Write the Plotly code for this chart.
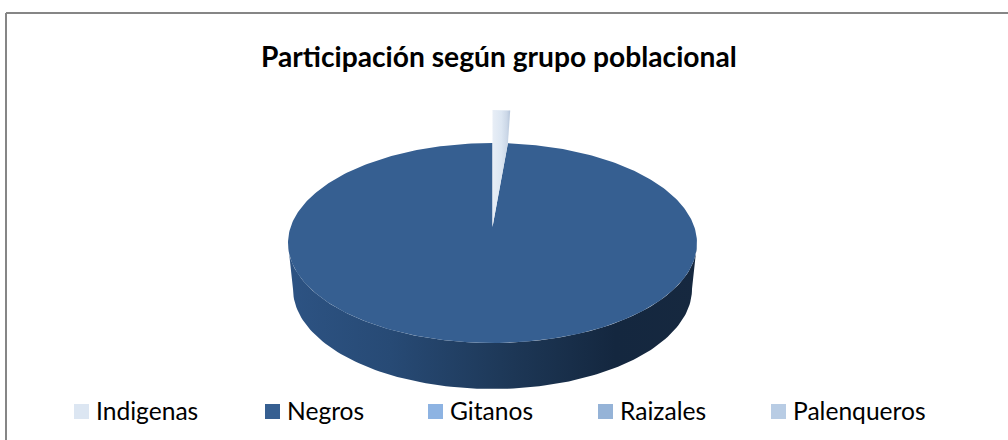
import math
import plotly.graph_objects as go

# ---- data -------------------------------------------------------------
categories = ["Indigenas", "Negros", "Gitanos", "Raizales", "Palenqueros"]
values = [1.2, 98.8, 0, 0, 0]
colors = ["#dce6f2", "#365f91", "#8db3e2", "#95b3d7", "#b8cce4"]
title_text = "Participación según grupo poblacional"

# ---- layout constants (pixels of the 1008x440 canvas) -------------------
W, H = 1008, 440
CX, CY, RX, RY = 492.5, 243.0, 204.5, 100.0
DEPTH, RX_BOTTOM = 46.0, 199.5
TIP_LIFT = 16.0       # exploded slice tip moves up
OUTER_LIFT = 33.0     # exploded slice outer edge moves up
legend_x = [81.5, 272.5, 435.5, 605.5, 778.5]
LEGEND_Y = 411.5
LABEL_GAP = 12.0
FONT = "Lato, Carlito, sans-serif"

total = sum(values)
sweep = [v / total * 2 * math.pi for v in values]
th_ind = sweep[0]


def ell(th, rx=RX, ry=RY, cy=CY):
    return CX + rx * math.sin(th), cy - ry * math.cos(th)


fig = go.Figure()

# side wall of the large slice (visible front half)
n = 120
front = [math.pi / 2 + math.pi * i / n for i in range(n + 1)]
top_pts = [ell(t) for t in front]
bot_pts = [ell(t, rx=RX_BOTTOM, cy=CY + DEPTH) for t in reversed(front)]
wx = [p[0] for p in top_pts + bot_pts]
wy = [p[1] for p in top_pts + bot_pts]
fig.add_trace(go.Scatter(
    x=wx + wx[:1], y=wy + wy[:1], mode="lines", fill="toself", line=dict(width=0),
    fillgradient=dict(type="horizontal", colorscale=[
        [0, "#2d5383"], [0.25, "#274a75"], [0.55, "#1d3756"],
        [0.8, "#14273f"], [1, "#16283f"]]),
    hoverinfo="skip", showlegend=False))

# top face of the large slice; apex sits at the exploded slice's tip
n = 360
arc = [th_ind + (2 * math.pi - th_ind) * i / n for i in range(n + 1)]
pts = [ell(t) for t in arc]
apex = (CX, CY - TIP_LIFT)
fig.add_trace(go.Scatter(
    x=[apex[0]] + [p[0] for p in pts] + [apex[0]],
    y=[apex[1]] + [p[1] for p in pts] + [apex[1]],
    mode="lines", fill="toself", line=dict(width=0), fillcolor=colors[1],
    hoverinfo="skip", showlegend=False))

# exploded small slice
edge = ell(th_ind)
outer_r = ell(th_ind * 1.15, cy=CY - OUTER_LIFT)
outer_l = (CX, CY - RY - OUTER_LIFT)
sx = [apex[0], edge[0], outer_r[0], outer_l[0], apex[0]]
sy = [apex[1], edge[1], outer_r[1], outer_l[1], apex[1]]
fig.add_trace(go.Scatter(
    x=sx, y=sy, mode="lines", fill="toself", line=dict(width=0),
    fillgradient=dict(type="horizontal", colorscale=[
        [0, "#e8eef6"], [0.5, "#dce6f2"], [0.82, "#cbd7e7"], [1, "#b4c4d9"]]),
    hoverinfo="skip", showlegend=False))

# legend entries: swatch and label
annotations = [dict(
    text=f"<b>{title_text}</b>", x=499, y=56,
    xref="x", yref="y", xanchor="center", yanchor="middle",
    showarrow=False,
    font=dict(family=FONT, size=28.2, color="#000000"))]
for name, col, lx in zip(categories, colors, legend_x):
    fig.add_trace(go.Scatter(
        x=[lx], y=[LEGEND_Y], mode="markers", name=name,
        showlegend=False, hoverinfo="name",
        marker=dict(symbol="square", size=15, color=col, line=dict(width=0))))
    annotations.append(dict(
        text=name, x=lx + LABEL_GAP, y=LEGEND_Y - 1.5, xref="x", yref="y",
        xanchor="left", yanchor="middle", showarrow=False,
        font=dict(family=FONT, size=24.6, color="#000000")))

fig.update_layout(
    width=W, height=H, margin=dict(l=0, r=0, t=0, b=0),
    paper_bgcolor="#ffffff", plot_bgcolor="#ffffff",
    xaxis=dict(range=[0, W], visible=False, fixedrange=True),
    yaxis=dict(range=[H, 0], visible=False, fixedrange=True),
    annotations=annotations,
    shapes=[
        dict(type="line", xref="x", yref="y", x0=6, x1=W, y0=13, y1=13,
             line=dict(color="#868686", width=2)),
        dict(type="line", xref="x", yref="y", x0=6, x1=6, y0=13, y1=H,
             line=dict(color="#868686", width=2)),
    ],
)

fig.write_html("out.html", config={"displayModeBar": False},
               post_script="document.body.style.margin='0';document.body.style.overflow='hidden';")
